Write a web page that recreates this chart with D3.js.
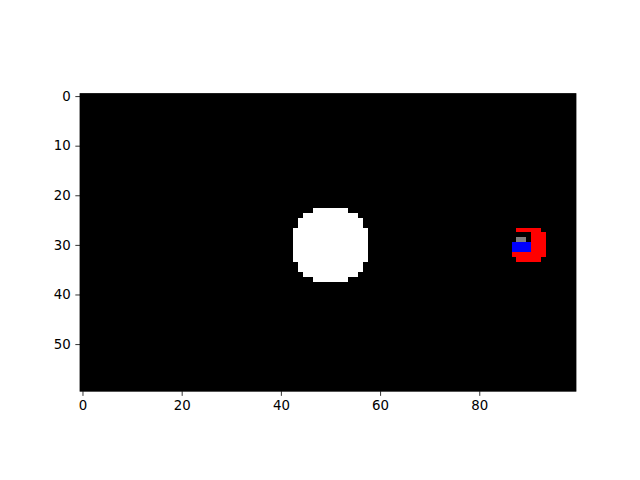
<!DOCTYPE html>
<html>
<head>
<meta charset="utf-8">
<script src="https://cdn.jsdelivr.net/npm/d3@7"></script>
<style>
  html, body { margin: 0; padding: 0; background: #ffffff; }
  svg { display: block; }
</style>
</head>
<body>
<svg id="chart" width="640" height="480"></svg>
<script>
// Image grid size (rows x columns)
const gridRows = 60;
const gridCols = 100;

// Runs of pixels: [row, firstColumn, lastColumn]
const whiteRuns = [
  [23, 47, 53], [24, 45, 55], [25, 44, 56], [26, 44, 56],
  [27, 43, 57], [28, 43, 57], [29, 43, 57], [30, 43, 57],
  [31, 43, 57], [32, 43, 57], [33, 43, 57],
  [34, 44, 56], [35, 44, 56], [36, 45, 55], [37, 47, 53]
];
const redRuns = [
  [27, 88, 92], [28, 91, 93], [29, 91, 93], [30, 91, 93],
  [31, 91, 93], [32, 87, 93], [33, 88, 92]
];
const blueRuns = [
  [30, 87, 90], [31, 87, 90]
];
const greyRuns = [
  [29, 88, 89]
];

const xTicks = [0, 20, 40, 60, 80];
const yTicks = [0, 10, 20, 30, 40, 50];

(function () {
  const layers = [
    { runs: whiteRuns, color: "#ffffff" },
    { runs: redRuns, color: "#ff0000" },
    { runs: blueRuns, color: "#0000ff" },
    { runs: greyRuns, color: "#808080" }
  ];

  const svg = d3.select("#chart");
  const axLeft = 80, axRight = 576, axTop = 93.6, axBottom = 391.2;

  const x = d3.scaleLinear().domain([-0.5, gridCols - 0.5]).range([axLeft, axRight]);
  const y = d3.scaleLinear().domain([-0.5, gridRows - 0.5]).range([axTop, axBottom]);

  // background (value 0 -> black)
  svg.append("rect")
    .attr("x", x(-0.5)).attr("y", y(-0.5))
    .attr("width", x(gridCols - 0.5) - x(-0.5))
    .attr("height", y(gridRows - 0.5) - y(-0.5))
    .attr("fill", "#000000");

  const img = svg.append("g").attr("shape-rendering", "crispEdges");
  layers.forEach(layer => {
    img.selectAll(null)
      .data(layer.runs)
      .enter().append("rect")
      .attr("x", d => x(d[1] - 0.5))
      .attr("y", d => y(d[0] - 0.5))
      .attr("width", d => x(d[2] + 0.5) - x(d[1] - 0.5))
      .attr("height", d => y(d[0] + 0.5) - y(d[0] - 0.5))
      .attr("fill", layer.color);
  });

  // spines
  svg.append("rect")
    .attr("x", axLeft).attr("y", axTop)
    .attr("width", axRight - axLeft).attr("height", axBottom - axTop)
    .attr("fill", "none").attr("stroke", "#000").attr("stroke-width", 0.8);

  const xAxis = d3.axisBottom(x).tickValues(xTicks).tickSize(4.67).tickPadding(4.67).tickFormat(d3.format("d"));
  const yAxis = d3.axisLeft(y).tickValues(yTicks).tickSize(4.67).tickPadding(4.67).tickFormat(d3.format("d"));

  const gx = svg.append("g").attr("transform", `translate(0,${axBottom})`).call(xAxis);
  const gy = svg.append("g").attr("transform", `translate(${axLeft},0)`).call(yAxis);

  [gx, gy].forEach(g => {
    g.select(".domain").remove();
    g.selectAll(".tick line").attr("stroke", "#000").attr("stroke-width", 0.8);
    g.selectAll(".tick text")
      .attr("fill", "#000")
      .style("font-family", "'DejaVu Sans', sans-serif")
      .style("font-size", "13.33px");
  });
})();
</script>
</body>
</html>
